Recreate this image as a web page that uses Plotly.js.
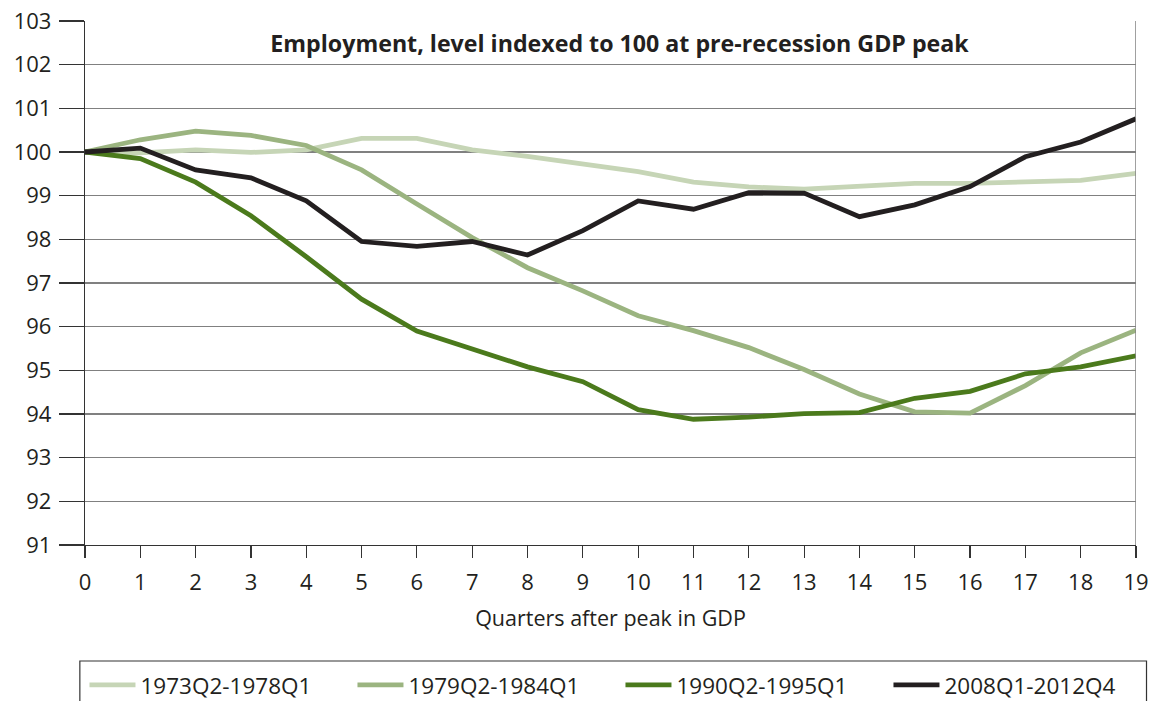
<!DOCTYPE html>
<html>
<head>
<meta charset="utf-8">
<script src="https://cdn.plot.ly/plotly-3.0.1.min.js"></script>
<style>html,body{margin:0;padding:0;background:#fff;}#chart{width:1158px;height:701px;}</style>
</head>
<body>
<div id="chart"></div>
<script>
var quarters = [0,1,2,3,4,5,6,7,8,9,10,11,12,13,14,15,16,17,18,19];
var seriesNames = ["1973Q2-1978Q1","1979Q2-1984Q1","1990Q2-1995Q1","2008Q1-2012Q4"];
var s1973 = [100, 99.98, 100.05, 99.99, 100.05, 100.31, 100.31, 100.05, 99.9, 99.73, 99.55, 99.31, 99.2, 99.15, 99.22, 99.28, 99.28, 99.31, 99.35, 99.51];
var s1979 = [100, 100.28, 100.48, 100.38, 100.15, 99.59, 98.81, 98.04, 97.35, 96.82, 96.25, 95.91, 95.52, 95.02, 94.46, 94.05, 94.02, 94.65, 95.4, 95.92];
var s1990 = [100, 99.85, 99.31, 98.54, 97.6, 96.63, 95.9, 95.48, 95.08, 94.74, 94.1, 93.88, 93.93, 94.01, 94.03, 94.36, 94.52, 94.92, 95.08, 95.33];
var s2008 = [100, 100.09, 99.59, 99.41, 98.88, 97.95, 97.84, 97.95, 97.64, 98.2, 98.88, 98.69, 99.07, 99.06, 98.52, 98.79, 99.21, 99.89, 100.23, 100.76];
var yTicks = [91,92,93,94,95,96,97,98,99,100,101,102,103];
var titleText = "Employment, level indexed to 100 at pre-recession GDP peak";
var xTitle = "Quarters after peak in GDP";

var colors = ["#c6d5b6","#9bb480","#4b7a1c","#231f20"];
var values = [s1973, s1979, s1990, s2008];
var traces = values.map(function(v, i){
  return {x: quarters, y: v, type: "scatter", mode: "lines", name: seriesNames[i],
          line: {color: colors[i], width: 4.8}};
});

var font = "'Open Sans', 'Noto Sans', sans-serif";
var layout = {
  width: 1158, height: 701,
  margin: {l: 84.5, r: 21.5, t: 21, b: 156, autoexpand: false},
  paper_bgcolor: "#fff", plot_bgcolor: "#fff",
  font: {family: font, color: "#231f20", size: 22},
  title: {text: "<b>" + titleText + "</b>", x: 0.535, xanchor: "center", y: 0.937, yanchor: "middle", yref: "container",
          font: {family: font, size: 23.2, color: "#231f20"}},
  xaxis: {range: [0, 19], tickvals: quarters, ticktext: quarters.map(String),
          showgrid: false, zeroline: false, showline: true, linecolor: "#333", linewidth: 1.2,
          ticks: "outside", ticklen: 12, tickcolor: "#333", tickwidth: 1.2, ticklabelstandoff: 5,
          tickfont: {size: 22}, fixedrange: true,
          title: {text: xTitle, font: {size: 21.5}, standoff: 16}},
  yaxis: {range: [91, 103], tickvals: yTicks, ticktext: yTicks.map(String),
          showgrid: true, gridcolor: "#808080", gridwidth: 1.2, zeroline: false,
          showline: true, linecolor: "#333", linewidth: 1.2,
          ticks: "outside", ticklen: 25, tickcolor: "#333", tickwidth: 1.2, ticklabelstandoff: 3,
          tickfont: {size: 22}, fixedrange: true},
  showlegend: true,
  legend: {orientation: "h", x: -0.0005, xanchor: "left", y: -0.2265, yanchor: "top",
           font: {size: 22.5, color: "#231f20"}, itemwidth: 46, entrywidth: 207, entrywidthmode: "pixels",
           bgcolor: "rgba(0,0,0,0)", borderwidth: 0},
  shapes: [
    {type: "line", xref: "x", yref: "y", x0: 19, x1: 19, y0: 91, y1: 103, line: {color: "#808080", width: 1.5}},
    {type: "rect", xref: "paper", yref: "paper", x0: -0.0049, x1: 1.01, y0: -0.2214, y1: -0.334,
     line: {color: "#333", width: 1.2}, fillcolor: "rgba(0,0,0,0)"}
  ]
};
Plotly.newPlot("chart", traces, layout, {displayModeBar: false, staticPlot: true});
</script>
</body>
</html>
